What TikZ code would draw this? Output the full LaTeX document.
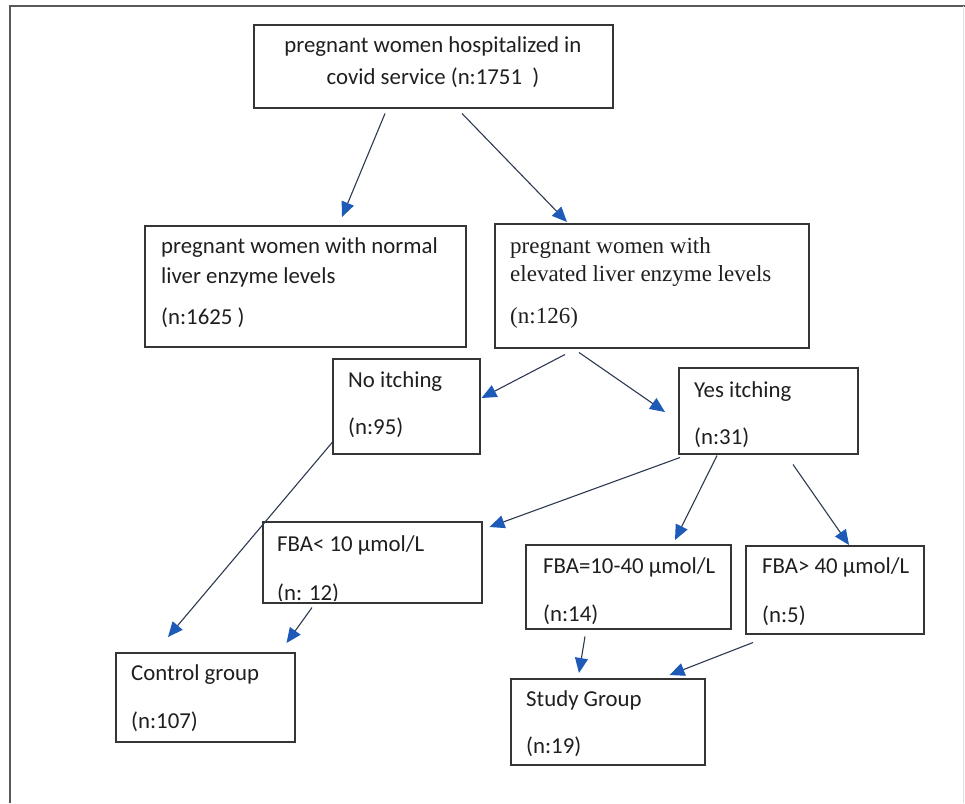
\documentclass[tikz,border=0pt]{standalone}
\usepackage{fontspec}
\setmainfont{Carlito}
\newfontfamily\timesf{Liberation Serif}
\usetikzlibrary{arrows.meta}
\definecolor{linec}{HTML}{2E3A52}
\definecolor{headc}{HTML}{1E5BB8}
\definecolor{boxc}{HTML}{353535}
\begin{document}
\begin{tikzpicture}[x=1pt,y=-1pt,
  box/.style={draw=boxc, line width=1.5pt, inner sep=0pt, anchor=north west},
  lbl/.style={anchor=west, inner sep=0pt, font=\fontsize{22.8}{27}\selectfont, text=black!88},
  lblc/.style={lbl, anchor=center},
  lbls/.style={lbl, font=\timesf\fontsize{23}{27}\selectfont},
  conn/.style={draw=linec, line width=1.1pt, -{Triangle[length=15pt,width=13pt,color=headc]}}
]
\fill[white] (0,0) rectangle (965,803);
\useasboundingbox (0,0) rectangle (965,803);
% outer frame
\draw[line width=2.2pt, draw=black!65] (10,803) -- (10,6) -- (965,6);
\draw[line width=0.8pt, draw=black!12] (963,6) -- (963,803);

% boxes
\node[box, minimum width=359pt, minimum height=83pt] (top) at (253,24) {};
\node[box, minimum width=321pt, minimum height=121pt] (normal) at (144,225) {};
\node[box, minimum width=314pt, minimum height=124pt] (elev) at (494,223) {};
\node[box, minimum width=147pt, minimum height=95pt] (noitch) at (332,358) {};
\node[box, minimum width=179pt, minimum height=86pt] (yes) at (678,367) {};
\node[box, minimum width=219pt, minimum height=81pt] (fba1) at (262,521) {};
\node[box, minimum width=205pt, minimum height=84pt] (fba2) at (525,544) {};
\node[box, minimum width=178pt, minimum height=88pt] (fba3) at (745,545) {};
\node[box, minimum width=179pt, minimum height=89pt] (ctrl) at (115,652) {};
\node[box, minimum width=194pt, minimum height=86pt] (study) at (510,678) {};

% texts
\node[lblc] (t1a) at (433,47) {pregnant women hospitalized in};
\node[lblc] (t1b) at (433,78) {covid service (n:1751\ \ )};
\node[lbl] (t2a) at (161,248) {pregnant women with normal};
\node[lbl] (t2b) at (161,277) {liver enzyme levels};
\node[lbl] (t2c) at (161,318) {(n:1625 )};
\node[lbls] (t3a) at (510,248) {pregnant women with};
\node[lbls] (t3b) at (510,276) {elevated liver enzyme levels};
\node[lbls] (t3c) at (510,318) {(n:126)};
\node[lbl] (t4a) at (348,382) {No itching};
\node[lbl] (t4b) at (348,428) {(n:95)};
\node[lbl] (t5a) at (694,392) {Yes itching};
\node[lbl] (t5b) at (694,438) {(n:31)};
\node[lbl] (t6a) at (277,545) {FBA< 10 µmol/L};
\begin{scope}
\clip (262,521) rectangle (481,600);
\node[lbl] (t6b) at (277,594) {(n: 12)};
\end{scope}
\node[lbl] (t7a) at (543,567) {FBA=10-40 µmol/L};
\node[lbl] (t7b) at (543,615) {(n:14)};
\node[lbl] (t8a) at (762,567) {FBA> 40 µmol/L};
\node[lbl] (t8b) at (762,616) {(n:5)};
\node[lbl] (t9a) at (131,675) {Control group};
\node[lbl] (t9b) at (131,722) {(n:107)};
\node[lbl] (t10a) at (526,700) {Study Group};
\node[lbl] (t10b) at (526,747) {(n:19)};

% connectors
\draw[conn] ([shift={(132,5)}]top.south west) -- ([shift={(198,-8)}]normal.north west);
\draw[conn] ([shift={(209,5)}]top.south west) -- ([shift={(73,-1)}]elev.north west);
\draw[conn] ([shift={(71,6)}]elev.south west) -- ([shift={(1,40)}]noitch.north east);
\draw[conn] ([shift={(85,4)}]elev.south west) -- ([shift={(-13,45)}]yes.north west);
\draw[conn] ([shift={(1,-13)}]noitch.south west) -- ([shift={(53,-15)}]ctrl.north west);
\draw[conn] ([shift={(2,3)}]yes.south west) -- ([shift={(7,6)}]fba1.north east);
\draw[conn] ([shift={(39,1)}]yes.south west) -- ([shift={(150,-4)}]fba2.north west);
\draw[conn] ([shift={(115,10)}]yes.south west) -- ([shift={(104,0)}]fba3.north west);
\draw[conn] ([shift={(50,4)}]fba1.south west) -- ([shift={(-9,-9)}]ctrl.north east);
\draw[conn] ([shift={(60,7)}]fba2.south west) -- ([shift={(69,-5)}]study.north west);
\draw[conn] ([shift={(8,8)}]fba3.south west) -- ([shift={(-36,-3)}]study.north east);
\end{tikzpicture}
\end{document}
